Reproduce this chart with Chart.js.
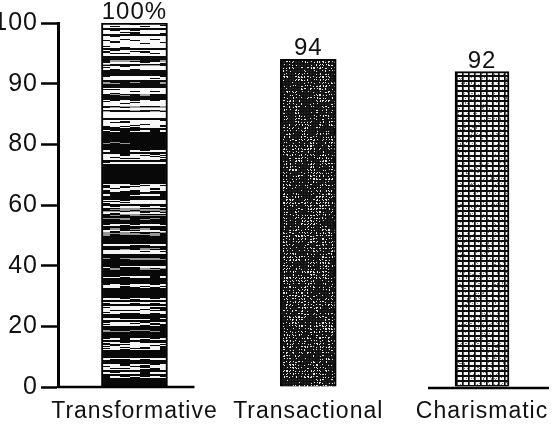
<!DOCTYPE html>
<html>
<head>
<meta charset="utf-8">
<script src="https://cdn.jsdelivr.net/npm/chart.js@4.4.1/dist/chart.umd.min.js"></script>
<style>
  html, body { margin: 0; padding: 0; background: #fff; overflow: hidden; }
  canvas { display: block; }
</style>
</head>
<body>
<canvas id="c" width="555" height="425"></canvas>
<script>
// Leadership style scores
const categories = ['Transformative', 'Transactional', 'Charismatic'];
const scores = [100, 94, 92];
const scoreSuffix = ['%', '', ''];
const yTicks = [0, 20, 40, 60, 80, 90, 100];
const barThicknesses = [66, 56, 54];

const FONT = '"Liberation Sans", Arial, Helvetica, sans-serif';

// Value axis whose ticks are evenly spaced, whatever their numeric step
class StepScale extends Chart.LinearScale {
  static id = 'step';
  buildTicks() {
    return yTicks.map(v => ({ value: v }));
  }
  _stepPos(value) {
    const t = yTicks;
    if (value <= t[0]) return 0;
    for (let i = 1; i < t.length; i++) {
      if (value <= t[i]) return (i - 1) + (value - t[i - 1]) / (t[i] - t[i - 1]);
    }
    return t.length - 1;
  }
  getPixelForValue(value) {
    return this.getPixelForDecimal(this._stepPos(value) / (yTicks.length - 1));
  }
  getValueForPixel(pixel) {
    const p = this.getDecimalForPixel(pixel) * (yTicks.length - 1);
    const i = Math.max(0, Math.min(yTicks.length - 2, Math.floor(p)));
    return yTicks[i] + (p - i) * (yTicks[i + 1] - yTicks[i]);
  }
}

// Category axis with a wider lead-in before the first category and
// the last category sitting close to the right edge
class SpreadCategoryScale extends Chart.CategoryScale {
  static id = 'spread';
  buildTicks() {
    const ticks = super.buildTicks();
    const o = this.options;
    this._startValue = -o.leadIn;
    this._valueRange = (this.getLabels().length - 1) + o.leadIn + o.tail;
    return ticks;
  }
}
Chart.register(StepScale, SpreadCategoryScale);

const canvas = document.getElementById('c');
const ctx = canvas.getContext('2d');

function noise(a, b) {
  const s = Math.sin(a * 127.1 + b * 311.7) * 43758.5453;
  return s - Math.floor(s);
}

// Build a greyscale fill texture the size of the canvas
function makeTexture(shade) {
  const W = canvas.width, H = canvas.height;
  const c = document.createElement('canvas');
  c.width = W; c.height = H;
  const g = c.getContext('2d');
  const img = g.createImageData(W, H);
  for (let y = 0; y < H; y++) {
    for (let x = 0; x < W; x++) {
      const v = shade(x, y);
      const k = (y * W + x) * 4;
      img.data[k] = img.data[k + 1] = img.data[k + 2] = v;
      img.data[k + 3] = 255;
    }
  }
  g.putImageData(img, 0, 0);
  return ctx.createPattern(c, 'no-repeat');
}

const textures = [
  // dense horizontal hatching
  makeTexture((x, y) => {
    const row = noise(Math.floor(y / 2), 3);
    const blk = noise(Math.floor(x / 10), y);
    if (y < 125) {
      if (row > 0.5 && blk > 0.12) return 250;
      if (row > 0.4 && blk > 0.5) return 160;
      return 12;
    }
    if (row > 0.7 && blk > 0.3) return 245;
    if (row > 0.6 && blk > 0.55) return 150;
    return 8;
  }),
  // dark mottled screen
  makeTexture((x, y) => {
    const mott = noise(Math.floor(x / 7), Math.floor(y / 9));
    if (x % 3 === 0 || y % 3 === 0) return 15;
    return noise(x, y) > 0.5 + mott * 0.4 ? 225 : 30;
  }),
  // open grid
  makeTexture((x, y) => {
    const cx = x % 6, cy = y % 5;
    if (cx === 0 || cy === 0 || cy === 1) return 12;
    if (cx === 1) return 90;
    return noise(x, y) > 0.9 ? 120 : 245;
  })
];

const decorations = {
  id: 'decorations',
  beforeDraw(chart) {
    chart.ctx.letterSpacing = '1px';
  },
  afterDatasetsDraw(chart) {
    const c = chart.ctx;
    const y0 = chart.scales.y.getPixelForValue(0);
    c.save();
    // ground lines under the first and last bars
    const b0 = chart.getDatasetMeta(0).data[0];
    const b2 = chart.getDatasetMeta(2).data[2];
    c.strokeStyle = '#000';
    c.lineWidth = 2.5;
    c.beginPath();
    c.moveTo(chart.chartArea.left, y0);
    c.lineTo(b0.x + b0.width / 2 + 27, y0);
    c.moveTo(b2.x - b2.width / 2 - 27, y0 + 1);
    c.lineTo(b2.x + b2.width / 2 + 40, y0 + 1);
    c.stroke();
    // value labels
    c.fillStyle = '#111';
    c.font = '24px ' + FONT;
    c.textAlign = 'center';
    c.textBaseline = 'alphabetic';
    chart.data.datasets.forEach((ds, i) => {
      const bar = chart.getDatasetMeta(i).data[i];
      c.fillText(scores[i] + scoreSuffix[i], bar.x, bar.y - 4);
    });
    c.restore();
  }
};

new Chart(ctx, {
  type: 'bar',
  data: {
    labels: categories,
    datasets: categories.map((name, i) => ({
      label: name,
      data: scores.map((v, j) => (j === i ? v : null)),
      backgroundColor: textures[i],
      borderColor: '#000',
      borderWidth: 2,
      barThickness: barThicknesses[i]
    }))
  },
  options: {
    responsive: false,
    animation: false,
    devicePixelRatio: 1,
    datasets: { bar: { grouped: false } },
    layout: { padding: { top: 23, right: 0, left: 0, bottom: 0 } },
    plugins: { legend: { display: false }, tooltip: { enabled: false } },
    scales: {
      x: {
        type: 'spread',
        leadIn: 0.44,
        tail: 0.42,
        grid: { display: false, drawTicks: false },
        border: { display: false },
        ticks: {
          color: '#111',
          font: { size: 23, family: FONT },
          padding: 11,
          maxRotation: 0,
          minRotation: 0,
          autoSkip: false
        },
        afterFit(scale) { scale.height = 38; }
      },
      y: {
        type: 'step',
        min: 0,
        max: 100,
        grid: {
          drawOnChartArea: false,
          drawTicks: true,
          tickLength: 17,
          tickWidth: 2.5,
          tickColor: '#000'
        },
        border: { display: true, color: '#000', width: 3 },
        ticks: {
          color: '#111',
          font: { size: 25, family: FONT },
          padding: 3,
          autoSkip: false,
          callback: v => String(v)
        },
        afterFit(scale) { scale.width = 58; }
      }
    }
  },
  plugins: [decorations]
});
</script>
</body>
</html>
